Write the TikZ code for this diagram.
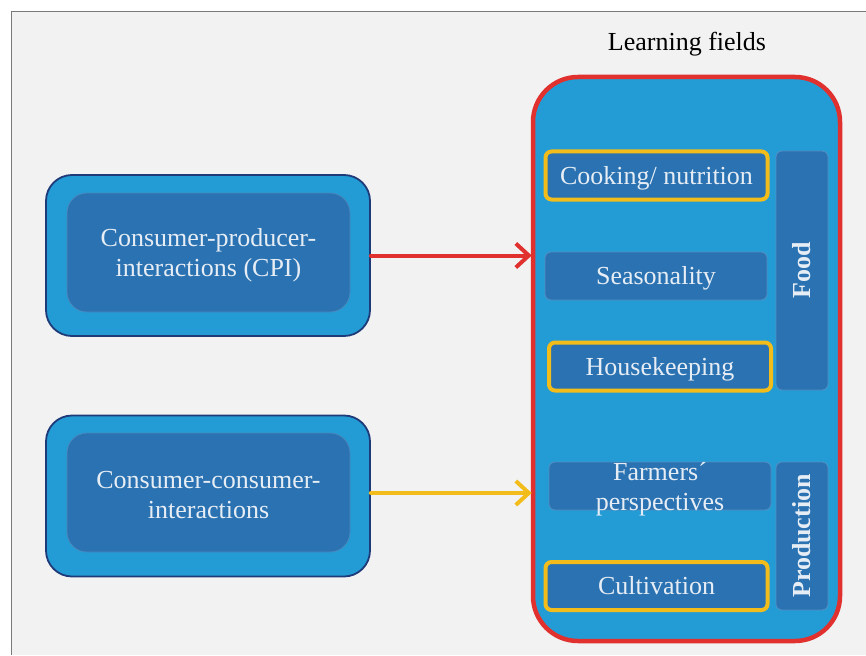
\documentclass[tikz,border=0pt]{standalone}
\usepackage{fontspec}
\setmainfont{Liberation Serif}
\usetikzlibrary{arrows.meta}
\definecolor{bgc}{HTML}{F2F2F3}
\definecolor{frame}{HTML}{7A7A7A}
\definecolor{lblue}{HTML}{239CD6}
\definecolor{dblue}{HTML}{2A72B1}
\definecolor{navy}{HTML}{1E3A78}
\definecolor{redc}{HTML}{E0312E}
\definecolor{yel}{HTML}{F2BC1A}
\definecolor{txtc}{HTML}{E6EDF5}
\tikzset{
  bigfont/.style={font=\fontsize{26}{30}\selectfont},
  outerbox/.style={rounded corners=26pt, fill=lblue, draw=navy, line width=1.8pt,
    minimum width=324pt, minimum height=161pt, inner sep=0pt},
  innerbox/.style={rounded corners=20pt, fill=dblue, draw=dblue!85!white, line width=0.8pt,
    minimum width=283pt, minimum height=119pt, inner sep=0pt},
  lbl/.style={text=txtc, align=center, bigfont, inner sep=0pt},
  field/.style={rounded corners=6pt, fill=dblue, draw=dblue!80!white, line width=0.8pt,
    minimum width=222pt, minimum height=48pt, text=txtc, align=center,
    bigfont, inner sep=0pt, text height=18pt, text depth=1pt},
  hl/.style={draw=yel, line width=4pt},
  side/.style={rounded corners=6pt, fill=dblue, draw=dblue!80!white, line width=0.8pt,
    rotate=90, minimum height=52pt, text=txtc, font=\fontsize{26}{30}\selectfont\bfseries, inner sep=0pt},
  conn/.style={line width=4pt, -{Straight Barb[length=13pt,width=24pt]}, line cap=round},
}
\begin{document}
\begin{tikzpicture}[x=1pt,y=-1pt]
\useasboundingbox (0,0) rectangle (866,655);
\fill[white] (0,0) rectangle (866,655);
\fill[bgc] (11,12) rectangle (866,655);
\draw[frame, line width=1pt] (11,655) -- (11,12) -- (866,12);

\node[bigfont, text=black] (title) at (687,44) {Learning fields};

\node[rounded corners=45pt, fill=lblue, draw=redc, line width=4.5pt,
  minimum width=307pt, minimum height=564pt, inner sep=0pt] (big) at (686.5,359) {};

\node[field, hl] (cook) at (656.5,175.5) {Cooking/ nutrition};
\node[field] (seas) at (656,276) {Seasonality};
\node[field, hl] (house) at (660,366.5) {Housekeeping};
\node[field] (farm) at (660,486) {};
\node[lbl] (farmtxt) at ([yshift=-3pt]farm.center) {Farmers´\\perspectives};
\node[field, hl] (cult) at (656.5,586) {Cultivation};
\node[side, minimum width=239pt] (food) at (802,270.5) {Food};
\node[side, minimum width=148pt] (prod) at (802,536) {Production};

\node[outerbox] (cpio) at (208,255.5) {};
\node[innerbox] (cpi) at (208.5,252.5) {};
\node[lbl] (cpitxt) at ([yshift=-3pt]cpi.center) {Consumer-producer-\\interactions (CPI)};
\node[outerbox] (ccio) at (208,496) {};
\node[innerbox] (cci) at (208.5,492.5) {};
\node[lbl] (ccitxt) at ([yshift=-3pt]cci.center) {Consumer-consumer-\\interactions};

\draw[conn, redc] (cpio.east) -- ([xshift=1pt]cpio.east -| big.west);
\draw[conn, yel] ([yshift=3pt]ccio.east) -- ([xshift=1pt,yshift=3pt]ccio.east -| big.west);
\end{tikzpicture}
\end{document}
